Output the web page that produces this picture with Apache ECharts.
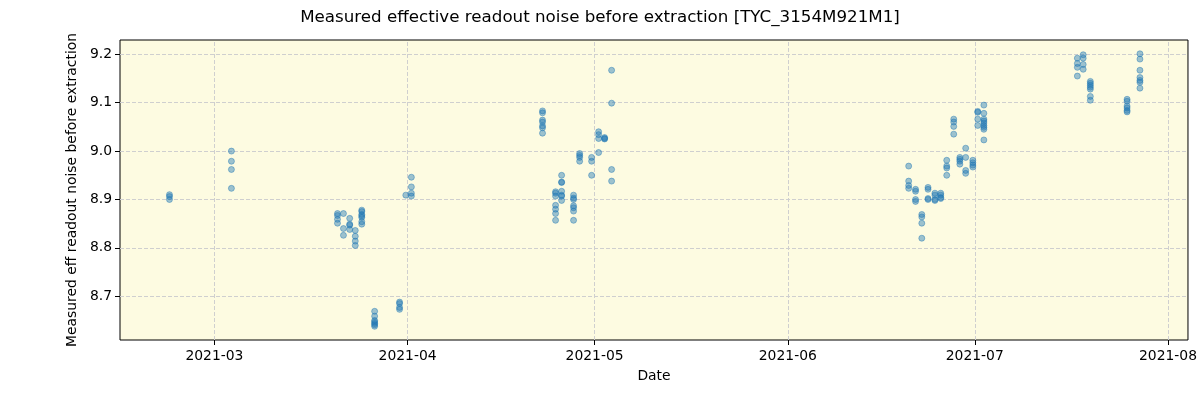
<!DOCTYPE html>
<html>
<head>
<meta charset="utf-8">
<script src="https://cdn.jsdelivr.net/npm/echarts@6/dist/echarts.min.js"></script>
<style>
html,body{margin:0;padding:0;background:#fff;}
#chart{width:1200px;height:400px;}
</style>
</head>
<body>
<div id="chart"></div>
<script>
// ---- data ----
const titleText = 'Measured effective readout noise before extraction [TYC_3154M921M1]';
const yAxisTitle = 'Measured eff readout noise before extraction';
const xAxisTitle = 'Date';

const groupTimes = [
  '2021-02-21T19:00', '2021-03-03T17:30', '2021-03-20T18:00', '2021-03-21T17:00',
  '2021-03-22T17:00', '2021-03-23T14:30', '2021-03-24T15:30', '2021-03-26T17:00',
  '2021-03-30T17:00', '2021-03-31T17:00', '2021-04-01T14:30',
  '2021-04-22T15:30', '2021-04-24T17:45', '2021-04-25T17:00', '2021-04-27T15:00',
  '2021-04-28T14:30', '2021-04-30T12:30', '2021-05-01T15:30', '2021-05-02T14:30',
  '2021-05-03T17:30',
  '2021-06-20T09:30', '2021-06-21T12:00', '2021-06-22T12:00', '2021-06-23T12:00',
  '2021-06-24T14:30', '2021-06-25T13:00', '2021-06-26T12:00', '2021-06-27T15:00',
  '2021-06-28T14:30', '2021-06-29T13:00', '2021-06-30T16:30', '2021-07-01T11:30',
  '2021-07-02T11:00',
  '2021-07-17T11:00', '2021-07-18T09:30', '2021-07-19T13:00', '2021-07-25T10:30',
  '2021-07-27T12:00'
];

const groupValues = [
  [8.910, 8.906, 8.900],
  [9.000, 8.979, 8.962, 8.923],
  [8.871, 8.867, 8.859, 8.851],
  [8.871, 8.840, 8.826],
  [8.861, 8.849, 8.847, 8.838],
  [8.836, 8.824, 8.814, 8.805],
  [8.878, 8.875, 8.869, 8.866, 8.863, 8.854, 8.849],
  [8.669, 8.659, 8.650, 8.647, 8.644, 8.641, 8.638],
  [8.688, 8.685, 8.677, 8.673],
  [8.909],
  [8.946, 8.926, 8.913, 8.907],
  [9.083, 9.079, 9.064, 9.060, 9.052, 9.048, 9.037],
  [8.916, 8.913, 8.907, 8.888, 8.880, 8.871, 8.857],
  [8.950, 8.936, 8.935, 8.917, 8.909, 8.907, 8.898],
  [8.909, 8.903, 8.900, 8.887, 8.883, 8.876, 8.857],
  [8.995, 8.991, 8.987, 8.979],
  [8.987, 8.979, 8.950],
  [9.040, 9.034, 9.026, 8.997],
  [9.028, 9.026, 9.025],
  [9.167, 9.099, 8.962, 8.938],
  [8.969, 8.938, 8.929, 8.923],
  [8.921, 8.917, 8.900, 8.896],
  [8.869, 8.864, 8.851, 8.820],
  [8.925, 8.921, 8.902, 8.900],
  [8.913, 8.909, 8.900, 8.898],
  [8.913, 8.909, 8.904, 8.902],
  [8.981, 8.969, 8.965, 8.950],
  [9.066, 9.060, 9.051, 9.035],
  [8.987, 8.983, 8.979, 8.973],
  [9.006, 8.987, 8.960, 8.954],
  [8.981, 8.976, 8.971, 8.967],
  [9.082, 9.080, 9.066, 9.053],
  [9.095, 9.078, 9.066, 9.062, 9.058, 9.053, 9.049, 9.045, 9.023],
  [9.192, 9.181, 9.173, 9.155],
  [9.199, 9.192, 9.179, 9.169],
  [9.144, 9.140, 9.136, 9.132, 9.128, 9.113, 9.105],
  [9.107, 9.103, 9.093, 9.089, 9.084, 9.081],
  [9.201, 9.190, 9.167, 9.152, 9.146, 9.142, 9.130]
];

const xTickDates = ['2021-03-01', '2021-04-01', '2021-05-01', '2021-06-01', '2021-07-01', '2021-08-01'];
const yTicks = [8.7, 8.8, 8.9, 9.0, 9.1, 9.2];
const xRange = ['2021-02-13T20:30', '2021-08-04T05:00'];
const yRange = [8.6097, 9.2295];

// ---- build ----
const toTs = s => new Date((s.length === 10 ? s + 'T00:00' : s) + ':00Z').getTime();
const points = [];
groupTimes.forEach((t, i) => {
  groupValues[i].forEach(v => points.push([toTs(t), v]));
});
const xTicks = xTickDates.map(toTs);

const fontFamily = 'DejaVu Sans';
const gridLineStyle = { color: '#cfcfcf', type: [4, 2], width: 1 };

const chart = echarts.init(document.getElementById('chart'), null, { renderer: 'canvas' });
chart.setOption({
  animation: false,
  backgroundColor: '#ffffff',
  title: {
    text: titleText,
    left: 'center',
    top: 4,
    textStyle: { fontFamily, fontSize: 16.7, fontWeight: 'normal', color: '#000' }
  },
  grid: {
    left: 120, right: 12, top: 40, bottom: 60,
    show: true, backgroundColor: '#fdfbe1', borderColor: '#000', borderWidth: 1
  },
  xAxis: {
    type: 'value',
    min: toTs(xRange[0]),
    max: toTs(xRange[1]),
    name: xAxisTitle,
    nameLocation: 'middle',
    nameGap: 29,
    nameTextStyle: { fontFamily, fontSize: 13.9, color: '#000' },
    axisLine: { show: false },
    axisTick: { show: true, length: 5, lineStyle: { color: '#000', width: 1 }, customValues: xTicks },
    axisLabel: {
      fontFamily, fontSize: 13.9, color: '#000', margin: 9,
      customValues: xTicks,
      formatter: v => {
        const d = new Date(v);
        return d.getUTCFullYear() + '-' + String(d.getUTCMonth() + 1).padStart(2, '0');
      }
    },
    splitLine: { show: false }
  },
  yAxis: {
    type: 'value',
    min: yRange[0],
    max: yRange[1],
    name: yAxisTitle,
    nameLocation: 'middle',
    nameGap: 38,
    nameTextStyle: { fontFamily, fontSize: 13.9, color: '#000' },
    axisLine: { show: false },
    axisTick: { show: true, length: 5, lineStyle: { color: '#000', width: 1 }, customValues: yTicks },
    axisLabel: {
      fontFamily, fontSize: 13.9, color: '#000', margin: 8,
      customValues: yTicks,
      formatter: v => Number(v).toFixed(1)
    },
    splitLine: { show: false }
  },
  series: [{
    type: 'scatter',
    data: points,
    symbol: 'circle',
    symbolSize: 6,
    itemStyle: { color: 'rgba(31,119,180,0.55)', borderColor: 'rgba(31,119,180,0.7)', borderWidth: 0.8 },
    markLine: {
      silent: true,
      symbol: ['none', 'none'],
      label: { show: false },
      lineStyle: gridLineStyle,
      animation: false,
      z: 1,
      data: yTicks.map(v => ({ yAxis: v })).concat(xTicks.map(t => ({ xAxis: t })))
    }
  }]
});
</script>
</body>
</html>
